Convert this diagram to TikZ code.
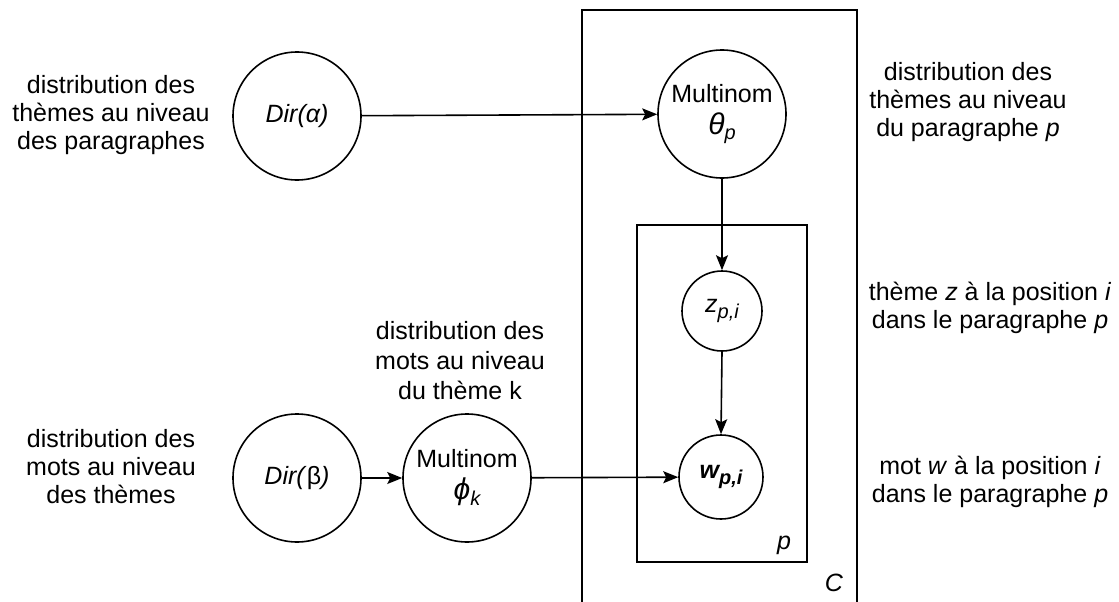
\documentclass[tikz,border=0pt]{standalone}
\usepackage{fontspec}
\setmainfont{Liberation Sans}
\usetikzlibrary{arrows.meta}

% small italic subscript in the text font
\newcommand{\isub}[1]{\raisebox{-0.45ex}{\fontsize{20}{20}\selectfont\itshape #1}}
\newcommand{\bsub}[1]{\raisebox{-0.45ex}{\fontsize{20}{20}\selectfont\bfseries\itshape #1}}

\begin{document}
\begin{tikzpicture}[x=1pt,y=-1pt,
  var/.style={draw, circle, line width=1.6pt, minimum size=#1, inner sep=0pt,
              font=\fontsize{25}{28}\selectfont},
  lbl/.style={align=center, font=\fontsize{25}{28}\selectfont},
  link/.style={line width=1.6pt, -{Stealth[length=15pt,width=12pt,inset=3pt]}},
  plate/.style={draw, line width=1.6pt}]
\useasboundingbox (0,0) rectangle (1119,602);

% plates
\draw[plate] (582,10) rectangle (857,606);
\draw[plate] (637,225) rectangle (807,562);
\node[lbl, font=\fontsize{25}{28}\selectfont\itshape] (platep) at (784,545) {p};
\node[lbl, font=\fontsize{25}{28}\selectfont\itshape] (platec) at (834,583) {C};

% random variables
\node[var=128pt] (dira) at (297,116) {\itshape Dir(α)};
\node[var=128pt, align=center] (theta) at (722,114)
  {Multinom\\[4pt]{\fontsize{30}{30}\selectfont\itshape θ}\isub{p}};
\node[var=80pt] (z) at (722,311) {\itshape z\isub{p,i}};
\node[var=84pt] (w) at (721,477) {\bfseries\itshape w\bsub{p,i}};
\node[var=128pt] (dirb) at (297,478) {\itshape Dir(\textup{β})};
\node[var=128pt, align=center] (phi) at (467,478)
  {Multinom\\[4pt]{\fontsize{30}{30}\selectfont\itshape ϕ}\isub{k}};

% dependencies
\draw[link] (dira) -- (theta);
\draw[link] (theta) -- (z);
\draw[link] (z.south) -- (w.north);
\draw[link] (dirb) -- (phi);
\draw[link] (phi) -- (w);

% descriptions
\node[lbl] (la) at (111,115) {distribution des\\thèmes au niveau\\des paragraphes};
\node[lbl] (lt) at (968,102) {distribution des\\thèmes au niveau\\du paragraphe \textit{p}};
\node[lbl] (lz) at (990,308) {thème \textit{z} à la position \textit{i}\\dans le paragraphe \textit{p}};
\node[lbl] (lw) at (990,482) {mot \textit{w} à la position \textit{i}\\dans le paragraphe \textit{p}};
\node[lbl, font=\fontsize{25}{30}\selectfont] (lk) at (460,361) {distribution des\\mots au niveau\\du thème k};
\node[lbl] (lb) at (111,467) {distribution des\\mots au niveau\\des thèmes};
\end{tikzpicture}
\end{document}
